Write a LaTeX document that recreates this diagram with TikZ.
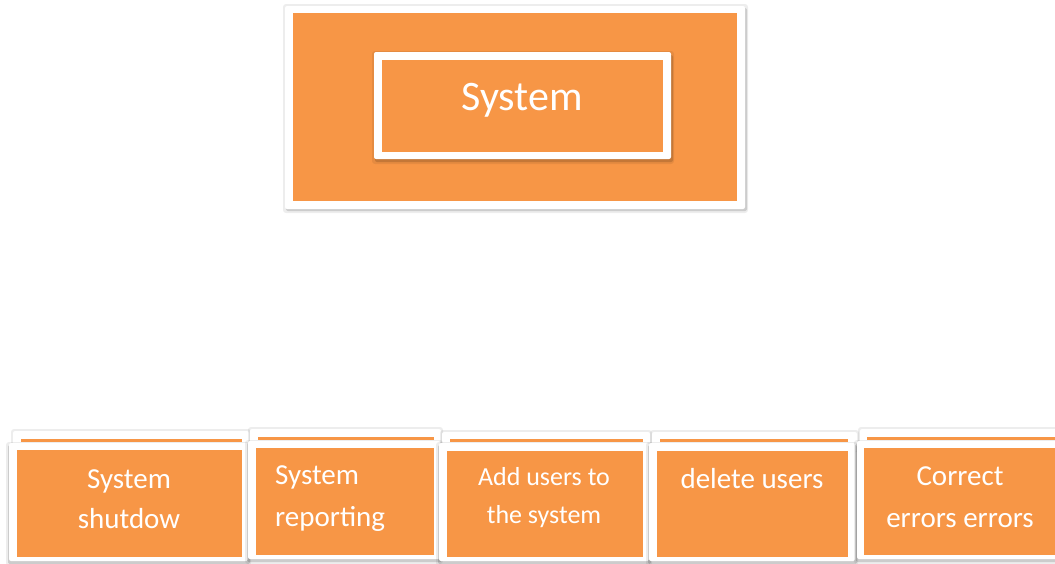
\documentclass[tikz,border=0pt]{standalone}
\usepackage{fontspec}
\setmainfont{Carlito}
\definecolor{orng}{HTML}{F79646}
\begin{document}
\begin{tikzpicture}[x=1pt,y=-1pt,
  glow/.style={fill=black,opacity=0.07,rounded corners=3pt},
  shad/.style={fill=black,opacity=0.14,rounded corners=2pt},
  card/.style={fill=white,rounded corners=2pt},
  org/.style={fill=orng},
  lbl/.style={text=white,inner sep=0pt,anchor=base,font=\fontsize{29}{36}\selectfont},
  lbls/.style={lbl,font=\fontsize{26}{32}\selectfont},
  big/.style={lbl,font=\fontsize{42}{50}\selectfont}]
\useasboundingbox (0,0) rectangle (1055,563);
% top outer
\fill[glow] (283,4) rectangle (748,213);
\fill[shad] (286,8) rectangle (747,211);
\fill[card] (285,6) rectangle (745,209);
\fill[org] (293,13) rectangle (737,201);
% top inner
\fill[glow] (372,51) rectangle (674,164);
\fill[shad] (375,55) rectangle (673,162);
\fill[card] (374,52) rectangle (671,159);
\fill[org] (382,60) rectangle (663,152);
\node[big] (sys) at (522,110) {System};
% bottom boxes: back cards
\foreach \a/\b/\t/\sa/\sb/\st in {13/249/431/21/242/439, 250/441/429/258/434/437, 442/650/432/450/643/439, 652/857/432/660/848/439, 860/1070/429/867/1070/437}{
  \fill[glow] (\a-2,\t-2) rectangle (\b+2,\t+20);
  \fill[card] (\a,\t) rectangle (\b,\t+20);
  \fill[org] (\sa,\st) rectangle (\sb,\st+3);
}
% front cards
\foreach \a/\b/\t/\oa/\ob/\ot/\obt in {9/248/443/17/242/450/557, 248/440/441/256/434/448/555, 439/649/443/447/643/451/557, 649/855/443/657/848/451/557, 857/1070/441/864/1070/448/555}{
  \fill[glow] (\a-3,\t-1) rectangle (\b+3,\obt+9);
  \fill[shad] (\a-1,\t+2) rectangle (\b+2,\obt+7);
  \fill[card] (\a,\t) rectangle (\b,\obt+4);
  \fill[org] (\oa,\ot) rectangle (\ob,\obt);
}
\node[lbl] (b1a) at (129,488) {System};
\node[lbl] (b1b) at (129,528) {shutdow};
\node[lbl,anchor=base west] (b2a) at (275,484) {System};
\node[lbl,anchor=base west] (b2b) at (275,526) {reporting};
\node[lbls] (b3a) at (544,485) {Add users to};
\node[lbls] (b3b) at (544,523) {the system};
\node[lbl] (b4a) at (752,488) {delete users};
\node[lbl] (b5a) at (960,485) {Correct};
\node[lbl] (b5b) at (960,527) {errors errors};
\end{tikzpicture}
\end{document}
